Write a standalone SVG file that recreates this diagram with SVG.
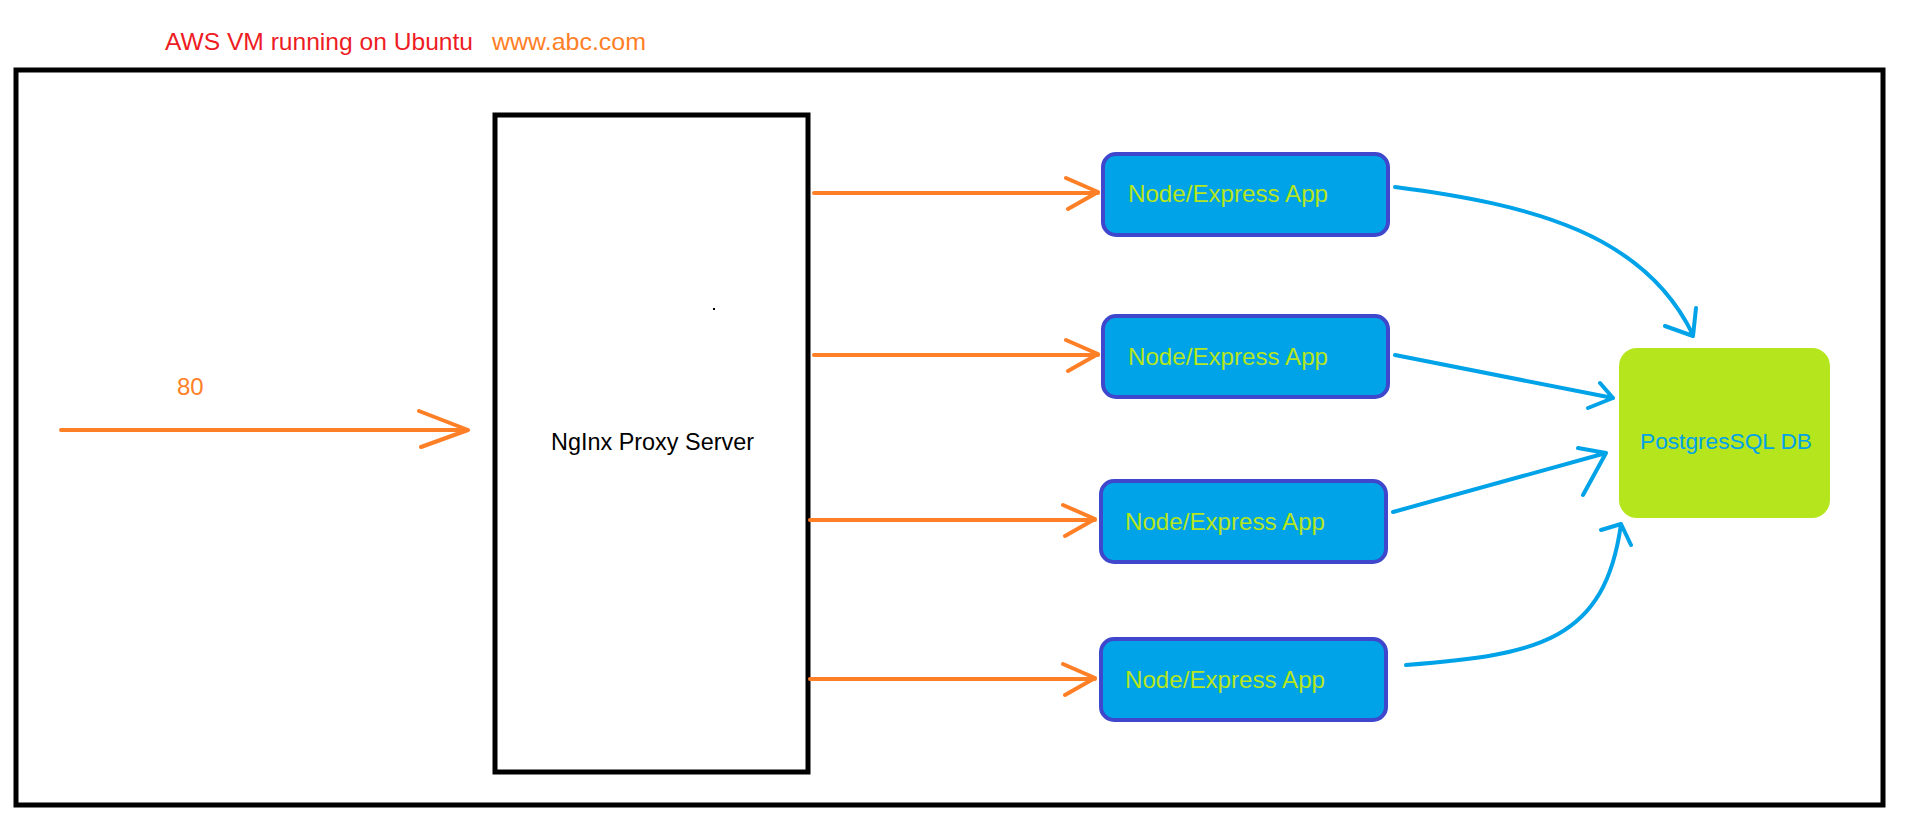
<svg xmlns="http://www.w3.org/2000/svg" width="1914" height="825" viewBox="0 0 1914 825">
<defs>
<style>
.t{font-family:"Liberation Sans",Arial,sans-serif;}
.app rect{fill:#00A2E8;stroke:#3F48CC;stroke-width:4;}
.app text{fill:#B5E61D;font-size:24px;}
.or{fill:none;stroke:#FF7F27;stroke-width:4;stroke-linecap:round;stroke-linejoin:round;}
.bl{fill:none;stroke:#00A2E8;stroke-width:4;stroke-linecap:round;stroke-linejoin:round;}
</style>
</defs>
<rect width="1914" height="825" fill="#ffffff"/>
<g id="title">
<text class="t" x="165" y="50" font-size="24" fill="#ED1C24" textLength="308" lengthAdjust="spacingAndGlyphs">AWS VM running on Ubuntu</text>
<text class="t" x="492" y="50" font-size="24" fill="#FF7F27" textLength="154" lengthAdjust="spacingAndGlyphs">www.abc.com</text>
</g>
<g id="vm">
<rect x="16" y="70" width="1867" height="735" fill="none" stroke="#000" stroke-width="5"/>
</g>
<g id="nginx">
<rect x="495" y="115" width="313" height="657" fill="#fff" stroke="#000" stroke-width="5"/>
<text class="t" x="551" y="450" font-size="23" fill="#000" textLength="203" lengthAdjust="spacingAndGlyphs">NgInx Proxy Server</text>
<rect x="713" y="308" width="2" height="2" fill="#000"/>
</g>
<g id="app1" class="app">
<rect x="1103" y="154" width="285" height="81" rx="13"/>
<text class="t" x="1128" y="202" textLength="200" lengthAdjust="spacingAndGlyphs">Node/Express App</text>
</g>
<g id="app2" class="app">
<rect x="1103" y="316" width="285" height="81" rx="13"/>
<text class="t" x="1128" y="365" textLength="200" lengthAdjust="spacingAndGlyphs">Node/Express App</text>
</g>
<g id="app3" class="app">
<rect x="1101" y="481" width="285" height="81" rx="13"/>
<text class="t" x="1125" y="530" textLength="200" lengthAdjust="spacingAndGlyphs">Node/Express App</text>
</g>
<g id="app4" class="app">
<rect x="1101" y="639" width="285" height="81" rx="13"/>
<text class="t" x="1125" y="688" textLength="200" lengthAdjust="spacingAndGlyphs">Node/Express App</text>
</g>
<g id="db">
<rect x="1619" y="348" width="211" height="170" rx="18" fill="#B5E61D"/>
<text class="t" x="1640" y="449" font-size="22.5" fill="#00A2E8" textLength="172" lengthAdjust="spacingAndGlyphs">PostgresSQL DB</text>
</g>
<g id="port-label">
<text class="t" x="177" y="395" font-size="24" fill="#FF7F27">80</text>
</g>
<g id="connectors">
<path class="or" d="M61,430 L468,430 M419,411 L468,430 L421,447"/>
<path class="or" d="M814,193 L1098,193 M1066,178 L1098,192 L1068,209"/>
<path class="or" d="M814,355 L1098,355 M1066,340 L1098,354 L1068,371"/>
<path class="or" d="M810,520 L1095,520 M1063,505 L1095,519 L1065,536"/>
<path class="or" d="M810,679 L1095,679 M1063,664 L1095,678 L1065,695"/>
<path class="bl" d="M1395,187 C1535,205 1645,235 1693,335 M1665,326 L1693,336 L1696,308"/>
<path class="bl" d="M1395,355 L1613,398 M1600,383 L1613,398 L1588,408"/>
<path class="bl" d="M1393,512 L1606,453 M1578,448 L1606,453 L1583,495"/>
<path class="bl" d="M1406,665 C1540,655 1605,640 1621,524 M1601,530 L1621,524 L1631,545"/>
</g>
</svg>
